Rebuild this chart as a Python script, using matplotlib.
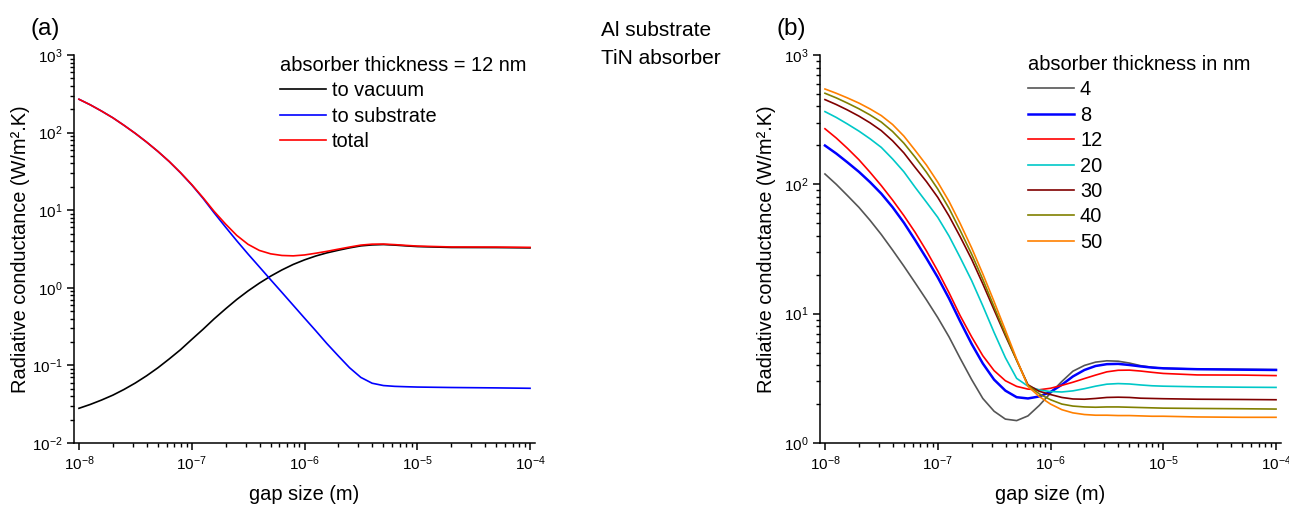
import numpy as np
import matplotlib
matplotlib.use("Agg")
import matplotlib.pyplot as plt
from matplotlib.ticker import LogLocator, NullFormatter

plt.rcParams['font.family'] = ['Liberation Sans', 'DejaVu Sans']
plt.rcParams['mathtext.fontset'] = 'custom'
plt.rcParams['mathtext.rm'] = 'Liberation Sans'
plt.rcParams['mathtext.it'] = 'Liberation Sans:italic'
plt.rcParams['mathtext.bf'] = 'Liberation Sans:bold'
plt.rcParams['axes.unicode_minus'] = False

# ---------------- data ----------------
gap_m = [1.00e-8, 1.26e-8, 1.58e-8, 2.00e-8, 2.51e-8, 3.16e-8, 3.98e-8, 5.01e-8,
         6.31e-8, 7.94e-8, 1.00e-7, 1.26e-7, 1.58e-7, 2.00e-7, 2.51e-7, 3.16e-7,
         3.98e-7, 5.01e-7, 6.31e-7, 7.94e-7, 1.00e-6, 1.26e-6, 1.58e-6, 2.00e-6,
         2.51e-6, 3.16e-6, 3.98e-6, 5.01e-6, 6.31e-6, 7.94e-6, 1.00e-5, 2.00e-5,
         5.01e-5, 1.00e-4]

# panel (a): 12 nm absorber
to_vacuum = [0.028, 0.0314, 0.0357, 0.0414, 0.0490, 0.0593, 0.0735, 0.0931, 0.121,
             0.159, 0.216, 0.292, 0.398, 0.537, 0.708, 0.912, 1.148, 1.413, 1.70,
             2.0, 2.29, 2.57, 2.82, 3.05, 3.27, 3.47, 3.57, 3.61, 3.55, 3.47,
             3.40, 3.31, 3.30, 3.27]
to_substrate = [269, 228, 190, 155, 124, 97.6, 75.4, 57.2, 42.4, 30.4, 21.2, 14.2,
                9.25, 6.03, 4.03, 2.72, 1.86, 1.27, 0.871, 0.596, 0.407, 0.279,
                0.191, 0.132, 0.0933, 0.070, 0.0589, 0.055, 0.0537, 0.0531,
                0.0526, 0.0519, 0.0513, 0.0507]
total = [269, 228, 190, 155, 124, 97.7, 75.5, 57.3, 42.5, 30.6, 21.4, 14.5, 9.66,
         6.61, 4.73, 3.63, 3.03, 2.74, 2.61, 2.58, 2.65, 2.79, 2.95, 3.15, 3.35,
         3.55, 3.65, 3.66, 3.60, 3.52, 3.45, 3.36, 3.35, 3.32]

# panel (b): total conductance for several absorber thicknesses (nm)
thickness_labels = ["4", "8", "12", "20", "30", "40", "50"]
t4 = [120.2, 100, 82.0, 66.4, 52.7, 40.9, 31.0, 23.3, 17.3, 12.8, 9.33, 6.61,
      4.52, 3.09, 2.21, 1.76, 1.53, 1.49, 1.62, 1.95, 2.43, 2.99, 3.59, 3.98,
      4.22, 4.32, 4.29, 4.15, 3.96, 3.85, 3.78, 3.73, 3.71, 3.69]
t8 = [199.5, 173, 148, 125, 104, 84.7, 66.5, 50.5, 37.0, 26.8, 19.1, 13.1, 8.73,
      5.83, 4.12, 3.09, 2.54, 2.26, 2.21, 2.29, 2.48, 2.82, 3.27, 3.67, 3.94,
      4.07, 4.09, 4.01, 3.91, 3.83, 3.78, 3.72, 3.69, 3.67]
t12 = total
t20 = [365, 329, 293, 258, 225, 193, 157, 125, 94.8, 72.8, 55.6, 39.8, 27.2, 18.0,
       11.5, 7.16, 4.57, 3.16, 2.75, 2.57, 2.50, 2.48, 2.53, 2.63, 2.75, 2.85,
       2.88, 2.86, 2.81, 2.77, 2.75, 2.72, 2.70, 2.69]
t30 = [452, 414, 376, 337, 299, 260, 217, 175, 135, 105, 79.4, 56.9, 39.4, 26.3,
       17.0, 10.7, 6.76, 4.37, 2.82, 2.51, 2.37, 2.25, 2.19, 2.18, 2.21, 2.25,
       2.26, 2.25, 2.22, 2.21, 2.20, 2.18, 2.17, 2.16]
t40 = [506, 466, 425, 384, 344, 303, 256, 208, 162, 124, 92.0, 65.2, 44.1, 28.8,
       18.4, 11.3, 6.98, 4.36, 2.79, 2.40, 2.16, 2.0, 1.93, 1.90, 1.89, 1.90,
       1.90, 1.89, 1.88, 1.87, 1.86, 1.85, 1.84, 1.83]
t50 = [546, 506, 466, 425, 383, 340, 290, 236, 183, 141, 104, 73.8, 49.9, 32.2,
       20.3, 12.4, 7.46, 4.45, 2.74, 2.29, 2.0, 1.81, 1.71, 1.66, 1.64, 1.64,
       1.63, 1.63, 1.62, 1.61, 1.61, 1.59, 1.58, 1.58]
thickness_series = [t4, t8, t12, t20, t30, t40, t50]

colors_b = ["#555555", "#0000FF", "#FF0000", "#00C8C8", "#800000", "#808000", "#FF8000"]
widths_b = [1.2, 1.8, 1.2, 1.2, 1.2, 1.2, 1.2]

FS = 14.4
TFS = 11

W, H = 1289, 507
fig = plt.figure(figsize=(W / 100, H / 100), dpi=100)

def px_axes(x0, x1, y0, y1):
    return fig.add_axes([x0 / W, 1 - y1 / H, (x1 - x0) / W, (y1 - y0) / H])

axA = px_axes(74, 535, 55, 443)
axB = px_axes(820, 1281, 55, 443)

xlim = (10 ** -8.044, 10 ** -3.956)

def style(ax, ylim):
    ax.set_xscale('log')
    ax.set_yscale('log')
    ax.set_xlim(*xlim)
    ax.set_ylim(*ylim)
    for s in ['top', 'right']:
        ax.spines[s].set_visible(False)
    for s in ['left', 'bottom']:
        ax.spines[s].set_linewidth(1.1)
    ax.xaxis.set_major_locator(LogLocator(base=10, numticks=12))
    ax.xaxis.set_minor_locator(LogLocator(base=10, subs=np.arange(2, 10), numticks=100))
    ax.yaxis.set_major_locator(LogLocator(base=10, numticks=12))
    ax.yaxis.set_minor_locator(LogLocator(base=10, subs=np.arange(2, 10), numticks=100))
    ax.xaxis.set_minor_formatter(NullFormatter())
    ax.yaxis.set_minor_formatter(NullFormatter())
    ax.tick_params(which='major', direction='out', length=5, width=1.1,
                   labelsize=TFS, pad=3)
    ax.tick_params(which='minor', direction='out', length=2.8, width=1.0)
    ax.set_xlabel("gap size (m)", fontsize=FS, labelpad=9)
    ax.set_ylabel("Radiative conductance (W/m\u00b2.K)", fontsize=FS)
    ax.yaxis.set_label_coords(-0.095, 0.5)

style(axA, (1e-2, 1e3))
style(axB, (1e0, 1e3))

leg_kw = dict(loc='upper left', bbox_transform=fig.transFigure, frameon=False,
              fontsize=FS, title_fontsize=FS, alignment='left',
              handlelength=2.3, handletextpad=0.3, labelspacing=0.32,
              borderpad=0, borderaxespad=0)

# panel (a)
axA.plot(gap_m, to_vacuum, color="black", lw=1.2, label="to vacuum")
axA.plot(gap_m, to_substrate, color="#0000FF", lw=1.2, label="to substrate")
axA.plot(gap_m, total, color="#FF0000", lw=1.2, label="total")
axA.legend(title="absorber thickness = 12 nm",
           bbox_to_anchor=(280 / W, 1 - 56 / H), **leg_kw)

# panel (b)
for vals, lab, c, lw in zip(thickness_series, thickness_labels, colors_b, widths_b):
    axB.plot(gap_m, vals, color=c, lw=lw, label=lab)
axB.legend(title="absorber thickness in nm",
           bbox_to_anchor=(1028 / W, 1 - 55 / H), **leg_kw)

fig.text(31 / W, 1 - 29 / H, "(a)", fontsize=17.5, ha='left', va='center')
fig.text(777 / W, 1 - 29 / H, "(b)", fontsize=17.5, ha='left', va='center')
fig.text(601 / W, 1 - 31 / H, "Al substrate", fontsize=15, ha='left', va='center')
fig.text(601 / W, 1 - 58 / H, "TiN absorber", fontsize=15, ha='left', va='center')

fig.savefig("out.png", dpi=100)
